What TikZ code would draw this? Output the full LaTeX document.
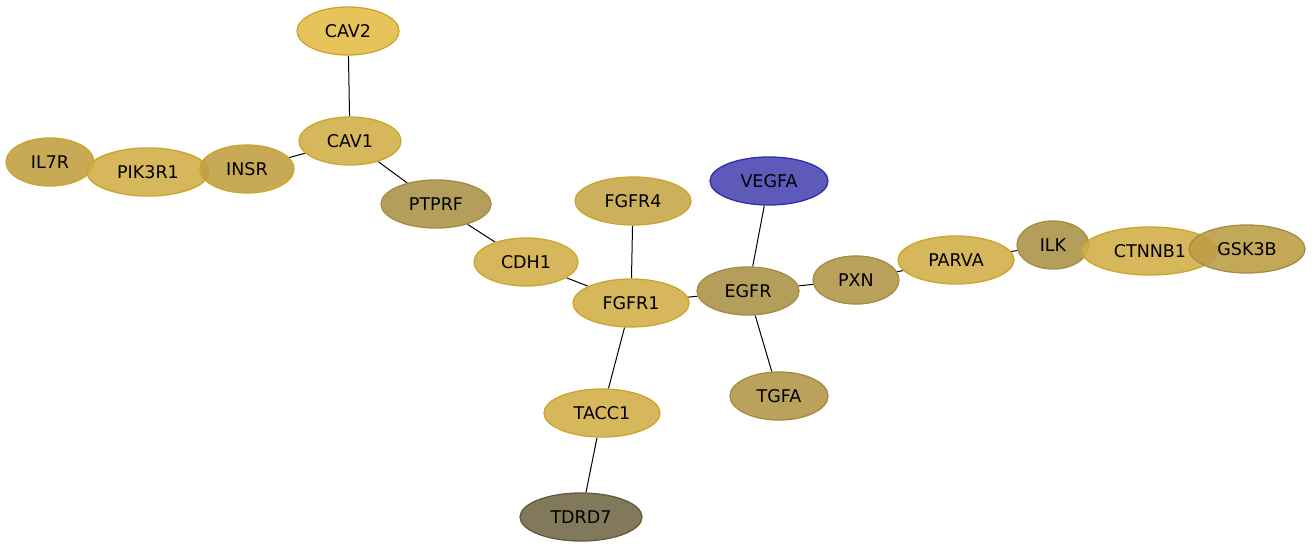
\documentclass[tikz,border=0pt]{standalone}
\usepackage{fontspec}
\setmainfont{DejaVu Sans}
\usetikzlibrary{shapes.geometric,backgrounds}

\definecolor{goldA}{RGB}{228,189,74}
\definecolor{goldB}{RGB}{210,175,74}
\definecolor{goldC}{RGB}{194,160,66}
\definecolor{goldD}{RGB}{200,167,74}
\definecolor{khakiA}{RGB}{172,147,74}
\definecolor{khakiB}{RGB}{178,152,74}
\definecolor{khakiC}{RGB}{189,158,72}
\definecolor{olive}{RGB}{116,105,72}
\definecolor{goldLine}{RGB}{205,165,45}
\definecolor{khakiLine}{RGB}{165,140,65}
\definecolor{oliveLine}{RGB}{100,90,60}
\definecolor{violet}{RGB}{76,72,177}
\definecolor{violetLine}{RGB}{50,45,170}

\tikzset{
  gene/.style={ellipse,inner sep=0pt,minimum height=48pt,line width=1.3pt,
    fill opacity=0.9,text opacity=1},
  yellow gene/.style={gene,fill=#1,draw=goldLine},
  brown gene/.style={gene,fill=#1,draw=khakiLine},
  link/.style={line width=1pt,black}
}

\begin{document}
\begin{tikzpicture}[x=1pt,y=-1pt,font=\fontsize{17.5}{20}\selectfont]

    \useasboundingbox (0,0) rectangle (1313,548);

    % Left branch
    \node [yellow gene=goldA,minimum width=102pt] (cav2) at (348,31) {CAV2};
    \node [yellow gene=goldB,minimum width=102pt] (cav1) at (350,141) {CAV1};
    \node [yellow gene=goldC,minimum width=88pt] (il7r) at (50,162) {IL7R};
    \node [yellow gene=goldB,minimum width=122pt] (pik3r1) at (148,172) {PIK3R1};
    \node [yellow gene=goldC,minimum width=94pt] (insr) at (247,169) {INSR};
    \node [brown gene=khakiA,minimum width=110pt] (ptprf) at (436,204) {PTPRF};
    \node [yellow gene=goldB,minimum width=104pt] (cdh1) at (526,262) {CDH1};

    % Centre
    \node [yellow gene=goldD,minimum width=116pt] (fgfr4) at (633,201) {FGFR4};
    \node [yellow gene=goldB,minimum width=116pt] (fgfr1) at (631,303) {FGFR1};
    \node [gene,fill=violet,draw=violetLine,minimum width=118pt] (vegfa) at (769,181) {VEGFA};
    \node [brown gene=khakiA,minimum width=102pt] (egfr) at (748,291) {EGFR};
    \node [brown gene=khakiB,minimum width=98pt] (tgfa) at (779,396) {TGFA};
    \node [yellow gene=goldB,minimum width=116pt] (tacc1) at (602,413) {TACC1};
    \node [gene,fill=olive,draw=oliveLine,minimum width=122pt] (tdrd7) at (581,517) {TDRD7};

    % Right branch
    \node [brown gene=khakiB,minimum width=86pt] (pxn) at (856,280) {PXN};
    \node [yellow gene=goldB,minimum width=116pt] (parva) at (956,260) {PARVA};
    \node [brown gene=khakiA,minimum width=72pt] (ilk) at (1053,245) {ILK};
    \node [yellow gene=goldB,minimum width=136pt] (ctnnb1) at (1150,251) {CTNNB1};
    \node [brown gene=khakiC,minimum width=116pt] (gsk3b) at (1247,249) {GSK3B};

    % Interactions
    \begin{scope}[on background layer]
        \draw [link] (cav2) -- (cav1);
        \draw [link] (cav1) -- (insr);
        \draw [link] (insr) -- (pik3r1);
        \draw [link] (pik3r1) -- (il7r);
        \draw [link] (cav1) -- (ptprf);
        \draw [link] (ptprf) -- (cdh1);
        \draw [link] (cdh1) -- (fgfr1);
        \draw [link] (fgfr4) -- (fgfr1);
        \draw [link] (fgfr1) -- (egfr);
        \draw [link] (fgfr1) -- (tacc1);
        \draw [link] (tacc1) -- (tdrd7);
        \draw [link] (vegfa) -- (egfr);
        \draw [link] (egfr) -- (tgfa);
        \draw [link] (egfr) -- (pxn);
        \draw [link] (pxn) -- (parva);
        \draw [link] (parva) -- (ilk);
        \draw [link] (ilk) -- (ctnnb1);
        \draw [link] (ctnnb1) -- (gsk3b);
    \end{scope}

\end{tikzpicture}
\end{document}
